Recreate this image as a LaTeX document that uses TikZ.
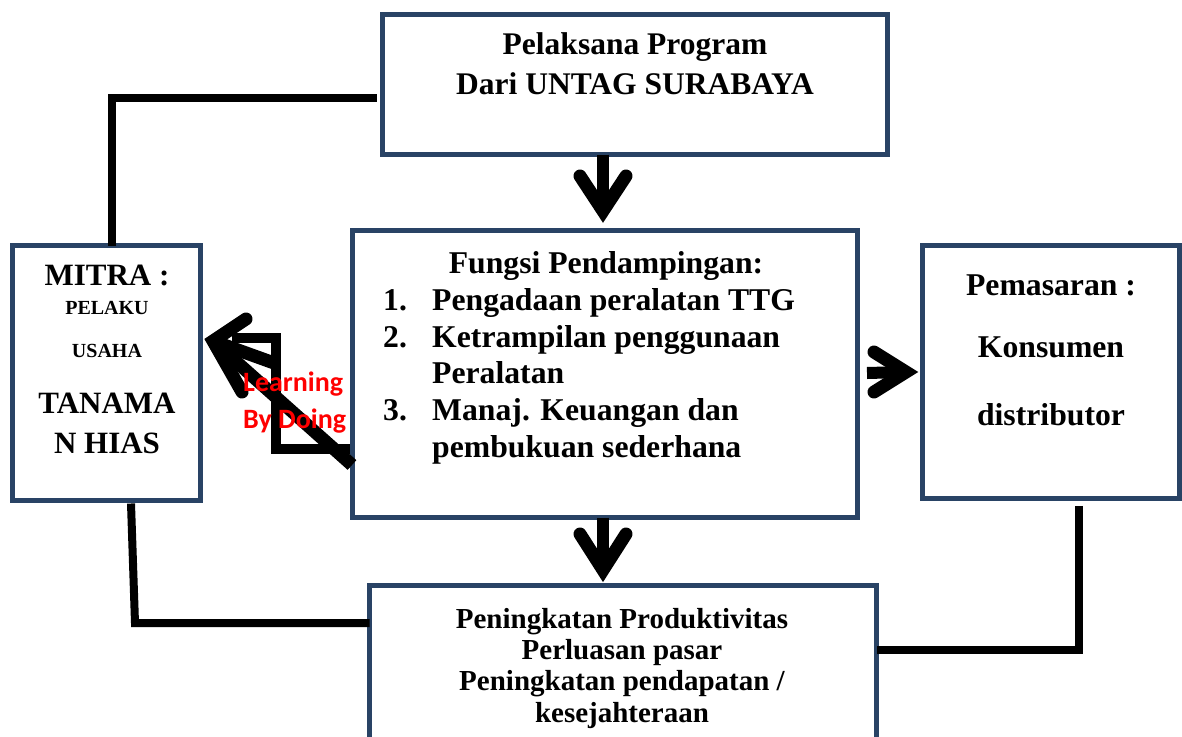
\documentclass[tikz,border=0pt]{standalone}
\usepackage{fontspec}
\newfontfamily\tnr{Liberation Serif}
\newfontfamily\carl{Carlito}
\definecolor{boxblue}{RGB}{41,67,101}
\definecolor{learnred}{RGB}{255,0,0}
\begin{document}
\begin{tikzpicture}[x=1pt,y=-1pt,
  box/.style={draw=boxblue, line width=5pt, fill=white, inner sep=0pt, outer sep=0pt},
  conn/.style={draw=black, line width=8pt, line cap=butt, line join=miter},
  stem/.style={draw=black, line width=12pt, line cap=butt},
  arm/.style={draw=black, line width=13pt, line cap=round, line join=miter},
  txt/.style={inner sep=0pt, anchor=base, font=\tnr\bfseries},
  txtl/.style={inner sep=0pt, anchor=base west, font=\tnr\bfseries},
  big/.style={font=\tnr\bfseries\fontsize{31.7}{36}\selectfont},
  red/.style={inner sep=0pt, anchor=base west, text=learnred, font=\carl\bfseries\fontsize{28}{32}\selectfont}
]
\useasboundingbox (0,0) rectangle (1182,736);
\clip (0,0) rectangle (1182,736);

% boxes
\node[box, minimum width=505pt, minimum height=140pt] (top) at (635,84.5) {};
\node[box, minimum width=505pt, minimum height=287pt] (center) at (605,374) {};
\node[box, minimum width=188pt, minimum height=255pt] (left) at (106.5,373) {};
\node[box, minimum width=257pt, minimum height=253.5pt] (right) at (1051,372) {};
\node[box, minimum width=507pt, minimum height=174.5pt] (bottom) at (623,672.75) {};

% connectors
\coordinate (tl) at (112,98);
\coordinate (bl) at (135,623);
\coordinate (br) at (1079,650);
\draw[conn] ([shift={(-6,13.5)}]top.west) -- (tl) -- (tl |- left.north);
\draw[conn] ([shift={(24.5,3)}]left.south) -- (bl) -- (bl -| bottom.west);
\draw[conn] ([shift={(28,7)}]right.south) -- (br) -- (br -| bottom.east);

% down arrow top -> center
\coordinate (v1) at (603,211);
\draw[stem] (v1 |- top.south) -- (v1);
\draw[arm] (580,176) -- (v1) -- (626,176);
% down arrow center -> bottom
\coordinate (v2) at (603,570);
\draw[stem] (v2 |- center.south) -- (v2);
\draw[arm] (580,534) -- (v2) -- (626,534);
% right arrow center -> right
\coordinate (v3) at (906,372);
\draw[stem] ([shift={(9.5,-1)}]center.east) -- (v3);
\draw[arm] (874,352) -- (v3) -- (874,392);
% left arrow center -> left (learning by doing)
\coordinate (v4) at (213,341);
\draw[conn, line width=10pt] (232,337.5) -- (276,337.5) -- (276,449) -- (350,449);
\draw[arm, line cap=butt] (352,465) -- (v4);
\draw[arm, line cap=butt] (274,363) -- (v4);
\draw[arm] (246,319) -- (v4) -- (242,392);

% texts top
\node[txt, font=\tnr\bfseries\fontsize{31.5}{40}\selectfont] (tp1) at (635,54) {Pelaksana Program};
\node[txt, font=\tnr\bfseries\fontsize{31.5}{40}\selectfont] (tp2) at (635,94) {Dari UNTAG SURABAYA};

% texts center
\node[txt, big] (cf0) at (606,273) {Fungsi Pendampingan:};
\node[txtl, big] (cn1) at (383,310) {1.};
\node[txtl, big] (cn2) at (383,347) {2.};
\node[txtl, big] (cn3) at (383,420) {3.};
\node[txtl, big] (cf1) at (432,310) {Pengadaan peralatan TTG};
\node[txtl, big] (cf2) at (432,347) {Ketrampilan penggunaan};
\node[txtl, big] (cf3) at (432,383) {Peralatan};
\node[txtl, big] (cf4) at (432,420) {Manaj. Keuangan dan};
\node[txtl, big] (cf5) at (432,457) {pembukuan sederhana};

% texts left
\node[txt, font=\tnr\bfseries\fontsize{31}{34}\selectfont] (lm1) at (107,285) {MITRA :};
\node[txt, font=\tnr\bfseries\fontsize{20}{22}\selectfont] (lm2) at (107,314) {PELAKU};
\node[txt, font=\tnr\bfseries\fontsize{20}{22}\selectfont] (lm3) at (107,357) {USAHA};
\node[txt, font=\tnr\bfseries\fontsize{31}{34}\selectfont] (lm4) at (107,413) {TANAMA};
\node[txt, font=\tnr\bfseries\fontsize{31}{34}\selectfont] (lm5) at (107,453) {N HIAS};

% texts right
\node[txt, big] (rm1) at (1051,295) {Pemasaran :};
\node[txt, big] (rm2) at (1051,357) {Konsumen};
\node[txt, big] (rm3) at (1051,425) {distributor};

% texts bottom
\node[txt, font=\tnr\bfseries\fontsize{29}{32}\selectfont] (bt1) at (622,628) {Peningkatan Produktivitas};
\node[txt, font=\tnr\bfseries\fontsize{29}{32}\selectfont] (bt2) at (622,659) {Perluasan pasar};
\node[txt, font=\tnr\bfseries\fontsize{29}{32}\selectfont] (bt3) at (622,690) {Peningkatan pendapatan /};
\node[txt, font=\tnr\bfseries\fontsize{29}{32}\selectfont] (bt4) at (622,722) {kesejahteraan};

% learning by doing
\node[red] (lb1) at (243,391) {Learning};
\node[red] (lb2) at (243,428) {By Doing};
\end{tikzpicture}
\end{document}
